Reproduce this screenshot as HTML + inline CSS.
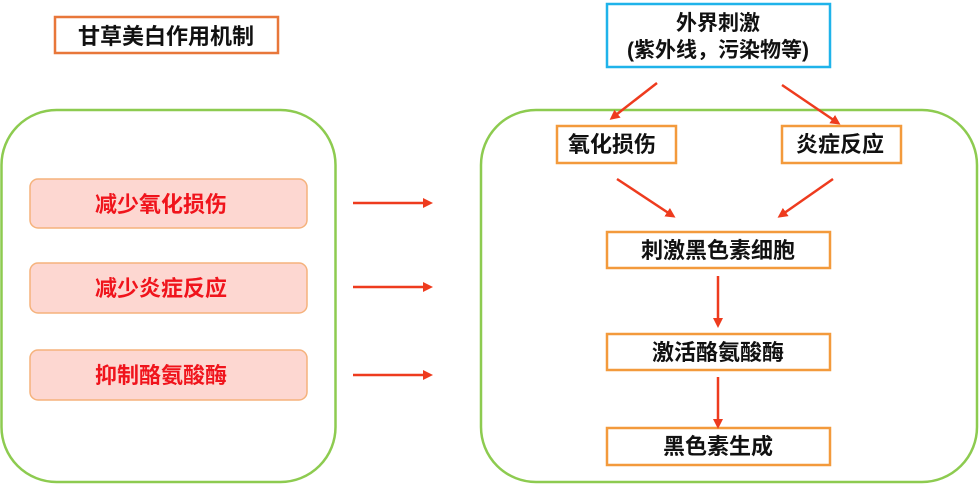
<!DOCTYPE html>
<html><head><meta charset="utf-8"><style>
html,body{margin:0;padding:0;background:#fff;width:979px;height:485px;overflow:hidden}
svg text{font-family:"Liberation Sans","Noto Sans CJK SC",sans-serif;font-weight:bold}
</style></head><body>
<svg width="979" height="485" viewBox="0 0 979 485" xmlns="http://www.w3.org/2000/svg">
<defs>
<marker id="a" markerWidth="10" markerHeight="10" refX="7" refY="5" orient="auto" markerUnits="userSpaceOnUse">
<path d="M0,0 L10,5 L0,10 Z" fill="#EE3B1E"/></marker>
</defs>
<rect x="55" y="17" width="223" height="36" fill="#fff" stroke="#E8773A" stroke-width="2.5"/>
<text x="166" y="44" font-size="22" text-anchor="middle" fill="#111">甘草美白作用机制</text>
<rect x="1.5" y="110" width="334" height="372" rx="55" fill="none" stroke="#8DCB50" stroke-width="2.5"/>
<g stroke="#F5B27C" stroke-width="1.5" fill="#FDD7D1">
<rect x="30" y="179" width="277" height="49" rx="8"/>
<rect x="30" y="263" width="277" height="50" rx="8"/>
<rect x="30" y="350" width="277" height="50" rx="8"/>
</g>
<g font-size="22" text-anchor="middle" fill="#F0141C">
<text x="161" y="212">减少氧化损伤</text>
<text x="161" y="296">减少炎症反应</text>
<text x="161" y="383">抑制酪氨酸酶</text>
</g>
<g stroke="#EE3B1E" stroke-width="2.5" marker-end="url(#a)">
<line x1="353" y1="203" x2="430" y2="203"/>
<line x1="353" y1="287" x2="430" y2="287"/>
<line x1="353" y1="375" x2="430" y2="375"/>
</g>
<rect x="481" y="110" width="496" height="372" rx="55" fill="none" stroke="#8DCB50" stroke-width="2.5"/>
<rect x="607" y="4" width="223" height="63" fill="#fff" stroke="#1FB3EA" stroke-width="2.5"/>
<text x="718" y="30" font-size="21" text-anchor="middle" fill="#111">外界刺激</text>
<text x="718" y="57" font-size="21" text-anchor="middle" fill="#111">(紫外线，污染物等)</text>
<g stroke="#F39A3C" stroke-width="2.5" fill="#fff">
<rect x="557" y="126" width="119" height="37"/>
<rect x="782" y="126" width="119" height="37"/>
<rect x="607" y="232" width="223" height="36"/>
<rect x="607" y="334" width="223" height="36"/>
<rect x="607" y="428" width="223" height="37"/>
</g>
<g font-size="22" text-anchor="middle" fill="#111">
<text x="612" y="152">氧化损伤</text>
<text x="840" y="152">炎症反应</text>
<text x="718" y="258">刺激黑色素细胞</text>
<text x="718" y="360">激活酪氨酸酶</text>
<text x="718" y="454">黑色素生成</text>
</g>
<g stroke="#EE3B1E" stroke-width="2.5" marker-end="url(#a)">
<line x1="657" y1="83" x2="612" y2="118"/>
<line x1="782" y1="85" x2="838" y2="123"/>
<line x1="617" y1="179" x2="673" y2="216"/>
<line x1="833" y1="179" x2="780" y2="216"/>
<line x1="718" y1="276" x2="718" y2="325"/>
<line x1="718" y1="377" x2="718" y2="426"/>
</g>
</svg>
</body></html>
